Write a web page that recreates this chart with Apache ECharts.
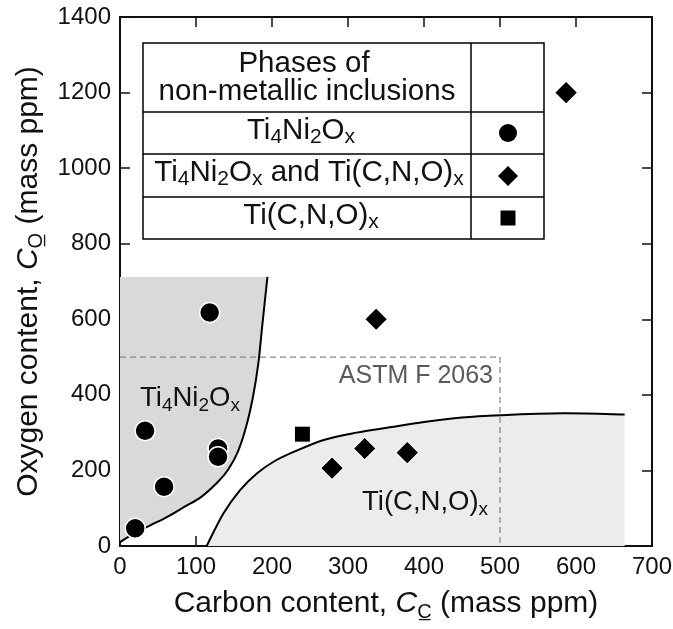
<!DOCTYPE html>
<html>
<head>
<meta charset="utf-8">
<script src="https://cdn.jsdelivr.net/npm/echarts@6/dist/echarts.min.js"></script>
<style>
  html, body { margin: 0; padding: 0; background: #ffffff; }
  #chart { width: 673px; height: 629px; }
</style>
</head>
<body>
<div id="chart"></div>
<script>
// Axis ranges (mass ppm)
const xRange = [0, 700, 100];
const yRange = [0, 1400, 200];

// Measured compositions [carbon, oxygen], grouped by observed inclusion phase
const oxideOnly = [[20, 47], [33, 305], [58, 157], [118, 618], [129, 258], [129, 236]];
const mixedPhases = [[279, 206], [322, 258], [378, 247], [337, 600], [587, 1200]];
const carbonitrideOnly = [[240, 296]];

// Phase-field boundaries [carbon, oxygen]
const oxideBoundary = [[0, 10], [19, 34], [41, 56], [63, 78], [85, 104], [107, 130], [129, 170],
  [142, 201], [155, 249], [166, 316], [175, 395], [182, 483], [187, 580], [194, 712]];
const oxideFieldTop = 712;
const carbonitrideBoundary = [[114, 0], [136, 86], [158, 148], [180, 192], [202, 223], [224, 245],
  [267, 280], [311, 300], [355, 314], [400, 328], [450, 340], [500, 346], [583, 351], [664, 348]];

// ASTM F 2063 upper limits: C <= 500, O <= 500
const astmLimit = [[0, 500], [500, 500], [500, 0]];

const FONT = 'Liberation Sans, Arial, Helvetica, sans-serif';
const INK = '#111111';
const TEXT_SIZE = 29.5;
const FIELD_TEXT_SIZE = 27.5;

// Smooth path through pixel points (Catmull-Rom converted to cubic Bezier)
function smoothPath(pts) {
  let d = 'M' + pts[0][0] + ',' + pts[0][1];
  for (let i = 0; i < pts.length - 1; i++) {
    const p0 = pts[Math.max(i - 1, 0)], p1 = pts[i], p2 = pts[i + 1], p3 = pts[Math.min(i + 2, pts.length - 1)];
    const c1 = [p1[0] + (p2[0] - p0[0]) / 6, p1[1] + (p2[1] - p0[1]) / 6];
    const c2 = [p2[0] - (p3[0] - p1[0]) / 6, p2[1] - (p3[1] - p1[1]) / 6];
    d += ' C' + c1[0] + ',' + c1[1] + ' ' + c2[0] + ',' + c2[1] + ' ' + p2[0] + ',' + p2[1];
  }
  return d;
}

function fieldFills(params, api) {
  const ox = oxideBoundary.map(p => api.coord(p));
  const oxTopLeft = api.coord([0, oxideFieldTop]);
  const oxPath = smoothPath(ox) + ' L' + oxTopLeft[0] + ',' + oxTopLeft[1] + ' Z';
  const cn = carbonitrideBoundary.map(p => api.coord(p));
  const last = carbonitrideBoundary[carbonitrideBoundary.length - 1];
  const cnBottomRight = api.coord([last[0], 0]);
  const cnPath = smoothPath(cn) + ' L' + cnBottomRight[0] + ',' + cnBottomRight[1] + ' Z';
  return {
    type: 'group',
    children: [
      { type: 'path', shape: { pathData: oxPath }, style: { fill: '#d9d9d9', stroke: null } },
      { type: 'path', shape: { pathData: cnPath }, style: { fill: '#ececec', stroke: null } }
    ]
  };
}

function fieldLines(params, api) {
  const ox = oxideBoundary.map(p => api.coord(p));
  const cn = carbonitrideBoundary.map(p => api.coord(p));
  return {
    type: 'group',
    children: [
      { type: 'path', shape: { pathData: smoothPath(ox) }, style: { fill: null, stroke: '#000', lineWidth: 2 } },
      { type: 'path', shape: { pathData: smoothPath(cn) }, style: { fill: null, stroke: '#000', lineWidth: 2 } }
    ]
  };
}

// Chemical formula text with subscripts
function chemStyles(size) {
  return {
    n: { fontSize: size, fontFamily: FONT, lineHeight: 34, fill: INK, color: INK },
    s: { fontSize: Math.round(size * 0.7), fontFamily: FONT, lineHeight: 10, verticalAlign: 'bottom', fill: INK, color: INK }
  };
}
const oxideName = '{n|Ti}{s|4}{n|Ni}{s|2}{n|O}{s|x}';
const carbonitrideName = '{n|Ti(C,N,O)}{s|x}';

function tableText(text, x, y) {
  return {
    type: 'text', x: x, y: y,
    style: { text: text, align: 'center', verticalAlign: 'middle', fill: INK,
      font: TEXT_SIZE + 'px ' + FONT, rich: chemStyles(TEXT_SIZE) }
  };
}
function fieldText(text, x, y) {
  return {
    type: 'text', x: x, y: y, z: 10,
    style: { text: text, align: 'left', verticalAlign: 'middle', fill: INK,
      font: FIELD_TEXT_SIZE + 'px ' + FONT, rich: chemStyles(FIELD_TEXT_SIZE) }
  };
}

const axisNameRich = {
  i: { fontStyle: 'italic', fontSize: 30, fontFamily: FONT, lineHeight: 36, color: INK },
  s: { fontSize: 20, fontFamily: FONT, lineHeight: 10, verticalAlign: 'bottom', color: INK }
};

function axisLine() {
  return { show: true, onZero: false, lineStyle: { color: INK, width: 2 } };
}
function axisTick() {
  return { show: true, inside: true, length: 10, lineStyle: { color: INK, width: 1.5 } };
}
const plainNumber = v => String(v);

const chart = echarts.init(document.getElementById('chart'), null, { renderer: 'canvas' });

chart.setOption({
  animation: false,
  backgroundColor: '#ffffff',
  grid: { left: 120, right: 21, top: 17, bottom: 83, containLabel: false, outerBoundsMode: 'none' },
  xAxis: [
    {
      type: 'value', min: xRange[0], max: xRange[1], interval: xRange[2],
      position: 'bottom',
      axisLine: axisLine(), axisTick: axisTick(), splitLine: { show: false },
      axisLabel: { fontSize: 24, fontFamily: FONT, color: INK, margin: 9, formatter: plainNumber },
      name: 'Carbon content, {i|C}{s|C̲} (mass ppm)',
      nameLocation: 'middle', nameGap: 40,
      nameTextStyle: { fontSize: 30, fontFamily: FONT, color: INK, lineHeight: 36, rich: axisNameRich }
    },
    {
      type: 'value', min: xRange[0], max: xRange[1], interval: xRange[2],
      position: 'top',
      axisLine: axisLine(), axisTick: axisTick(), splitLine: { show: false },
      axisLabel: { show: false }
    }
  ],
  yAxis: [
    {
      type: 'value', min: yRange[0], max: yRange[1], interval: yRange[2],
      position: 'left',
      axisLine: axisLine(), axisTick: axisTick(), splitLine: { show: false },
      axisLabel: { fontSize: 24, fontFamily: FONT, color: INK, margin: 9, formatter: plainNumber },
      name: 'Oxygen content, {i|C}{s|O̲} (mass ppm)',
      nameLocation: 'middle', nameGap: 73, nameRotate: 90,
      nameTextStyle: { fontSize: 30, fontFamily: FONT, color: INK, lineHeight: 36, rich: axisNameRich }
    },
    {
      type: 'value', min: yRange[0], max: yRange[1], interval: yRange[2],
      position: 'right',
      axisLine: axisLine(), axisTick: axisTick(), splitLine: { show: false },
      axisLabel: { show: false }
    }
  ],
  series: [
    {
      type: 'custom', name: 'phase fields', z: 1, silent: true,
      renderItem: fieldFills, data: [[0, 0]]
    },
    {
      type: 'line', name: 'ASTM F 2063', z: 2, silent: true,
      data: astmLimit, showSymbol: false, symbol: 'none',
      lineStyle: { color: '#8a8a8a', width: 1.3, type: [6, 4] }
    },
    {
      type: 'custom', name: 'phase boundaries', z: 3, silent: true,
      renderItem: fieldLines, data: [[0, 0]]
    },
    {
      type: 'scatter', name: 'Ti4Ni2Ox', z: 5, data: oxideOnly,
      symbol: 'circle', symbolSize: 20,
      itemStyle: { color: '#000', borderColor: '#fff', borderWidth: 1.5, opacity: 1 }
    },
    {
      type: 'scatter', name: 'Ti4Ni2Ox and Ti(C,N,O)x', z: 5, data: mixedPhases,
      symbol: 'diamond', symbolSize: 23,
      itemStyle: { color: '#000', borderColor: '#fff', borderWidth: 1.2, opacity: 1 }
    },
    {
      type: 'scatter', name: 'Ti(C,N,O)x', z: 5, data: carbonitrideOnly,
      symbol: 'rect', symbolSize: 16,
      itemStyle: { color: '#000', borderColor: '#fff', borderWidth: 1, opacity: 1 }
    }
  ],
  graphic: [
    // phase field labels
    fieldText(oxideName, 140, 398),
    fieldText(carbonitrideName, 362, 502),
    { type: 'text', x: 493, y: 376, z: 10,
      style: { text: 'ASTM F 2063', align: 'right', verticalAlign: 'middle', font: '25px ' + FONT, fill: '#5a5a5a' } },
    // legend table
    {
      type: 'group', z: 20,
      children: [
        { type: 'rect', shape: { x: 143, y: 43, width: 401, height: 196 },
          style: { fill: '#fff', stroke: '#000', lineWidth: 1.5 } },
        { type: 'line', shape: { x1: 471, y1: 43, x2: 471, y2: 239 }, style: { stroke: '#000', lineWidth: 1.5 } },
        { type: 'line', shape: { x1: 143, y1: 112, x2: 544, y2: 112 }, style: { stroke: '#000', lineWidth: 1.5 } },
        { type: 'line', shape: { x1: 143, y1: 154, x2: 544, y2: 154 }, style: { stroke: '#000', lineWidth: 1.5 } },
        { type: 'line', shape: { x1: 143, y1: 197, x2: 544, y2: 197 }, style: { stroke: '#000', lineWidth: 1.5 } },
        tableText('{n|Phases of}', 304, 64),
        tableText('{n|non-metallic inclusions}', 307, 92),
        tableText(oxideName, 301, 131),
        tableText(oxideName + '{n| and }' + carbonitrideName, 309, 173),
        tableText(carbonitrideName, 311, 216),
        { type: 'circle', shape: { cx: 508, cy: 133, r: 9 }, style: { fill: '#000' } },
        { type: 'polygon', shape: { points: [[508, 166], [518, 176], [508, 186], [498, 176]] }, style: { fill: '#000' } },
        { type: 'rect', shape: { x: 500.5, y: 210.5, width: 15, height: 15 }, style: { fill: '#000' } }
      ]
    }
  ]
});
</script>
</body>
</html>
